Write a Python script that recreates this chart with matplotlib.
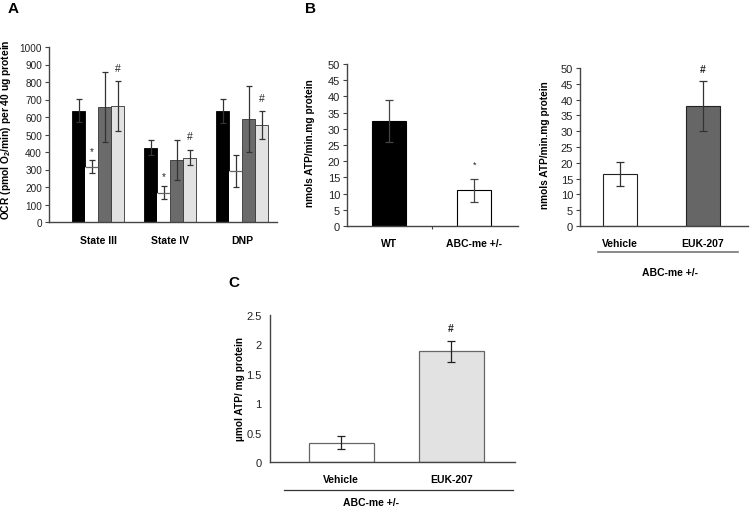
import matplotlib
matplotlib.use("Agg")
import matplotlib.pyplot as plt
import numpy as np
from matplotlib.transforms import blended_transform_factory

plt.rcParams['font.family'] = ['Liberation Sans', 'DejaVu Sans']

# ---------------- data ----------------
a_groups = ["State III", "State IV", "DNP"]
a_black = [637, 425, 634]
a_black_err = [67, 44, 67]
a_white = [315, 168, 292]
a_white_err = [37, 37, 90]
a_grey = [655, 354, 589]
a_grey_err = [200, 115, 190]
a_light = [661, 368, 552]
a_light_err = [143, 44, 80]
a_yticks = list(range(0, 1001, 100))

b1_cats = ["WT", "ABC-me +/-"]
b1_vals = [32.5, 11.0]
b1_err = [6.5, 3.5]

b2_cats = ["Vehicle", "EUK-207"]
b2_vals = [16.5, 38.0]
b2_err = [3.8, 8.0]

c_cats = ["Vehicle", "EUK-207"]
c_vals = [0.33, 1.88]
c_err = [0.11, 0.185]

group_label = "ABC-me +/-"

W, H = 750, 510
fig = plt.figure(figsize=(7.5, 5.1), dpi=100)

def ax_px(x0, y0, x1, y1):
    return fig.add_axes([x0 / W, 1 - y1 / H, (x1 - x0) / W, (y1 - y0) / H])

spine_c = '#444444'
err_c = '#333333'
tick_fs = 7.5
lab_fs = 7.3

def style(ax, tick_fs=tick_fs):
    for s in ['top', 'right']:
        ax.spines[s].set_visible(False)
    for s in ['left', 'bottom']:
        ax.spines[s].set_color(spine_c)
        ax.spines[s].set_linewidth(1.0)
    ax.tick_params(axis='y', direction='out', length=3, width=0.8, color=spine_c,
                   labelsize=tick_fs, pad=2, labelcolor='#222222')
    ax.tick_params(axis='x', length=0, labelsize=7.5, pad=9)
    for t in ax.get_xticklabels():
        t.set_fontweight('bold')

# ---------------- Panel A ----------------
axA = ax_px(49, 48, 277, 223)
x = np.arange(len(a_groups))
bw = 0.18
offs = np.array([-1.5, -0.5, 0.5, 1.5]) * bw
ekw = dict(ecolor=err_c, elinewidth=0.9, capsize=2.5, capthick=0.9)
axA.bar(x + offs[0], a_black, bw, color='black', edgecolor='black', lw=0.6,
        yerr=a_black_err, error_kw=ekw)
axA.bar(x + offs[1], a_white, bw, color='white', edgecolor='none',
        yerr=a_white_err, error_kw=ekw)
axA.hlines(a_white, x + offs[1] - bw / 2, x + offs[1] + bw / 2, color='#666666', lw=0.9)
axA.bar(x + offs[2], a_grey, bw, color='#6b6b6b', edgecolor='#333333', lw=0.6,
        yerr=a_grey_err, error_kw=ekw)
axA.bar(x + offs[3], a_light, bw, color='#e2e2e2', edgecolor='#333333', lw=0.6,
        yerr=a_light_err, error_kw=ekw)
axA.set_xlim(-0.68, 2.48)
axA.set_ylim(0, 1000)
axA.set_yticks(a_yticks)
axA.set_xticks(x)
axA.set_xticklabels(a_groups)
style(axA, tick_fs=7.2)
for i in range(2):
    axA.text(x[i] + offs[1], a_white[i] + a_white_err[i] + 55, '*', ha='center',
             va='center', fontsize=7, color='#222222')
for i in range(3):
    axA.text(x[i] + offs[3], a_light[i] + a_light_err[i] + 50, '#', ha='center',
             va='bottom', fontsize=7.5, color='#222222')
axA.set_ylabel('OCR (pmol O$_\\mathregular{2}$/min) per 40 ug protein', fontsize=7.4,
               fontweight='bold')
axA.yaxis.set_label_coords(-0.158, 0.535)

# ---------------- Panel B left ----------------
axB1 = ax_px(347, 65, 518, 227)
xb = np.arange(len(b1_cats))
axB1.bar(xb, b1_vals, 0.4, color=['black', 'white'], edgecolor='black', lw=0.8,
         yerr=b1_err, error_kw=dict(ecolor='#444444', elinewidth=0.9, capsize=3, capthick=0.9))
axB1.set_xlim(-0.49, 1.51)
axB1.set_ylim(0, 50)
axB1.set_yticks(range(0, 51, 5))
axB1.set_xticks(xb)
axB1.set_xticklabels(b1_cats)
axB1.set_xticks([0.5], minor=True)
axB1.tick_params(axis='x', which='minor', length=2, width=0.8, color=spine_c)
style(axB1, tick_fs=8)
axB1.text(xb[1], b1_vals[1] + b1_err[1] + 4.5, '*', ha='center', va='center',
          fontsize=6.5, color='#222222')
axB1.set_ylabel('nmols ATP/min.mg protein', fontsize=lab_fs, fontweight='bold')
axB1.yaxis.set_label_coords(-0.187, 0.52)

# ---------------- Panel B right ----------------
axB2 = ax_px(580, 69, 748, 227)
axB2.bar(xb, b2_vals, 0.41, color=['white', '#666666'], edgecolor='#222222', lw=0.8,
         yerr=b2_err, error_kw=dict(ecolor='#333333', elinewidth=0.9, capsize=3, capthick=0.9))
axB2.set_xlim(-0.48, 1.54)
axB2.set_ylim(0, 50)
axB2.set_yticks(range(0, 51, 5))
axB2.set_xticks(xb)
axB2.set_xticklabels(b2_cats)
style(axB2, tick_fs=8)
axB2.text(xb[1], b2_vals[1] + b2_err[1] + 2.0, '#', ha='center', va='bottom',
          fontsize=7.5, color='#222222', fontweight='bold')
axB2.set_ylabel('nmols ATP/min.mg protein', fontsize=lab_fs, fontweight='bold')
axB2.yaxis.set_label_coords(-0.18, 0.52)
trB2 = blended_transform_factory(axB2.transData, axB2.transAxes)
axB2.plot([-0.265, 1.42], [-0.165, -0.165], transform=trB2, color='#777777', lw=1.2,
          clip_on=False)
axB2.text(0.6, -0.29, group_label, transform=trB2, ha='center', va='center',
          fontsize=7.5, fontweight='bold')

# ---------------- Panel C ----------------
axC = ax_px(270, 316, 515, 463)
xc = np.arange(len(c_cats))
axC.bar(xc, c_vals, 0.59, color=['white', '#e2e2e2'], edgecolor='#666666', lw=0.9,
        yerr=c_err, error_kw=dict(ecolor='#222222', elinewidth=0.9, capsize=3, capthick=0.9))
axC.set_xlim(-0.645, 1.58)
axC.set_ylim(0, 2.5)
axC.set_yticks([0, 0.5, 1, 1.5, 2, 2.5])
axC.set_yticklabels(['0', '0.5', '1', '1.5', '2', '2.5'])
axC.set_xticks(xc)
axC.set_xticklabels(c_cats)
style(axC, tick_fs=8)
axC.tick_params(axis='y', length=0, pad=6)
axC.text(xc[1], c_vals[1] + c_err[1] + 0.13, '#', ha='center', va='bottom',
         fontsize=7.5, color='#222222', fontweight='bold')
axC.set_ylabel('µmol ATP/ mg protein', fontsize=lab_fs, fontweight='bold')
axC.yaxis.set_label_coords(-0.102, 0.5)
trC = blended_transform_factory(axC.transData, axC.transAxes)
axC.plot([-0.52, 1.56], [-0.19, -0.19], transform=trC, color='#333333', lw=0.9,
         clip_on=False)
axC.text(0.27, -0.27, group_label, transform=trC, ha='center', va='center',
         fontsize=7.5, fontweight='bold')

# panel letters
fig.text(8 / W, 1 - 9 / H, 'A', fontsize=11, fontweight='bold', va='center', ha='left')
fig.text(305 / W, 1 - 9 / H, 'B', fontsize=11, fontweight='bold', va='center', ha='left')
fig.text(228 / W, 1 - 283 / H, 'C', fontsize=11, fontweight='bold', va='center', ha='left')

fig.savefig('out.png', dpi=100, facecolor='white')
